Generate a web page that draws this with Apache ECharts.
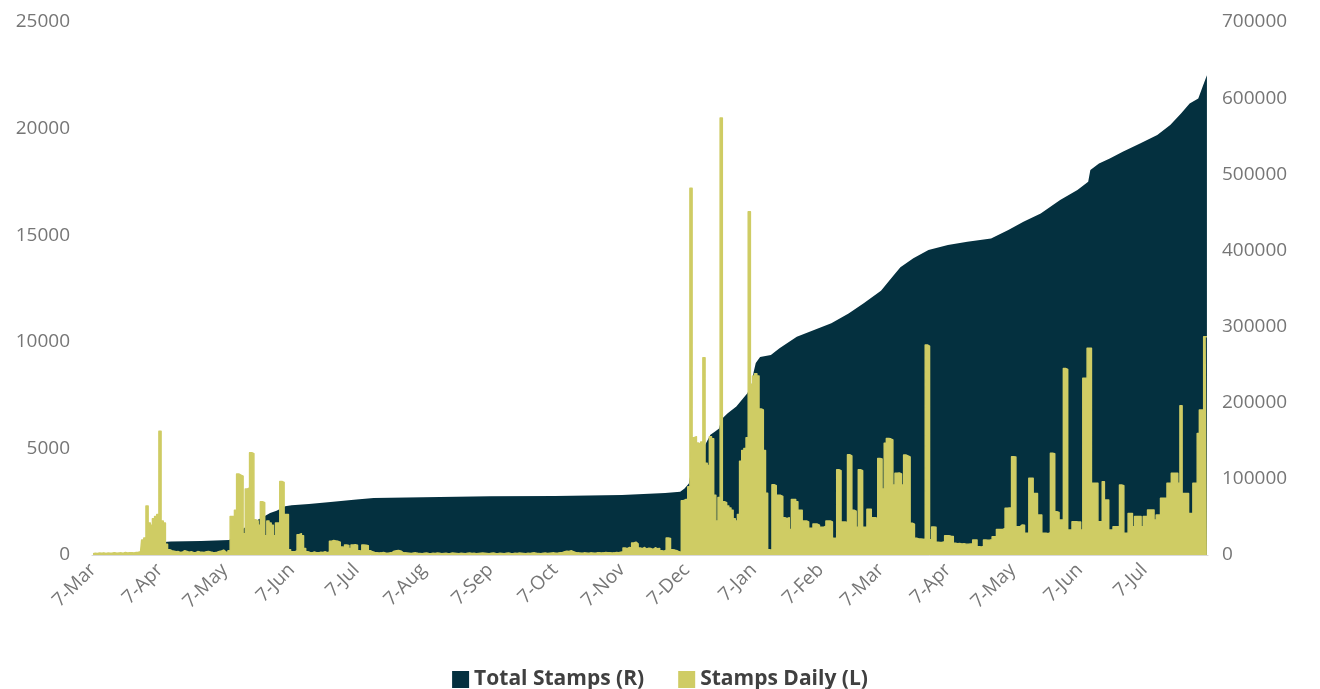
<!DOCTYPE html>
<html>
<head>
<meta charset="utf-8">
<title>Stamps</title>
<script src="https://cdn.jsdelivr.net/npm/echarts@6/dist/echarts.min.js"></script>
<style>
  html, body { margin: 0; padding: 0; background: #fff; }
  #chart { width: 1320px; height: 689px; }
</style>
</head>
<body>
<div id="chart"></div>
<script>
// first day of the series, one category per day
const startYear = 2022, startMonth = 2, startDay = 7;
const monthNames = ['Jan', 'Feb', 'Mar', 'Apr', 'May', 'Jun', 'Jul', 'Aug', 'Sep', 'Oct', 'Nov', 'Dec'];

// Stamps Daily (L), one value per day from 7-Mar
const dailyStamps = [
  60, 80, 70, 90, 80, 100, 70, 90, 80, 90, 110, 80, 90, 100, 80, 120, 90, 100, 110, 90, 120, 130, 150,
  700, 800, 2300, 1500, 1400, 1700, 1800, 1900, 5800, 1600, 1500, 500, 250, 200,
  180, 150, 160, 120, 140, 200, 170, 130, 150, 120, 110, 160, 140, 130, 120, 150, 170, 140, 120, 110, 130, 160, 190, 230,
  150, 100, 200,
  1800, 1800, 2100, 3800, 3750, 3700, 1000, 3100, 3150, 4800, 4750, 1650, 1600, 1400, 2500, 2450, 900, 1600, 1500, 1400,
  900, 1500, 1500, 3450, 3400, 1900, 1900, 250, 150, 150, 200, 950, 1000, 900, 300, 150,
  120, 100, 140, 110, 100, 130, 120, 150, 110, 140,
  650, 680, 660, 640, 600, 380, 350, 470, 450, 300, 470, 480, 460, 200, 180, 470, 460, 440, 200, 150, 120,
  110, 90, 100, 120, 90, 80, 100, 110, 180, 200,
  210, 190, 120, 100, 90, 80, 70, 90, 100, 80,
  70, 60, 80, 90, 70, 60, 80, 70, 90, 80,
  60, 70, 80, 60, 70, 90, 80, 70, 60, 80,
  70, 60, 80, 90, 70, 80, 60, 70, 80, 90,
  80, 70, 60, 80, 90, 70, 60, 80, 70, 60,
  80, 90, 70, 60, 80, 70, 90, 80, 70, 60,
  80, 70, 90, 100, 80, 70, 60, 80, 90, 70,
  80, 90, 100, 80, 90, 110, 120, 150, 180, 170,
  200, 160, 120, 100, 90, 80, 100, 90, 80, 100,
  90, 80, 100, 110, 90, 100, 120, 110, 100, 90,
  100, 120, 110, 130, 150,
  330, 300, 350, 320, 560, 600, 520, 330, 300, 350, 280, 320, 300, 260, 340, 290, 310, 200, 180, 220,
  800, 780, 250, 230, 200, 150, 120,
  2550, 2600, 2600, 3200, 17200, 5500, 5550, 5250, 5200, 5300, 9250, 4300, 4200, 5550, 5450, 2800, 1600, 2700,
  20500, 2500, 2450, 2300, 2200, 2100, 1700, 1600, 1900, 4400, 4900, 5000, 5500, 16100, 8000, 8400, 8500, 8400,
  6850, 6800, 4900, 2900, 250, 200,
  3300, 3250, 2800, 2800, 2750, 1750, 1700, 1750, 1200, 2600, 2600, 2500, 2100, 2100, 1600, 1600, 1550, 1250, 1250,
  1450, 1450, 1400, 1300, 1300, 1350, 1600, 1600, 1550, 780, 800, 4000, 3950, 1550, 1550, 1500, 4700, 4650, 2100,
  2050, 1300, 4000, 3950, 1300, 1300, 2150, 2150, 1750, 1750, 1700, 4530,
  4500, 3100, 5240, 5470, 5450, 5400, 3280, 3830, 3850, 3800, 3280, 4690, 4650, 4600, 1490, 1450, 790, 750, 750, 740,
  720, 9850, 9800, 720, 1310, 1300, 600, 590, 600, 620, 900, 900, 880, 870, 550, 530, 540, 520, 530, 510,
  500, 520, 530, 700, 700, 390, 380, 400, 700, 690, 700, 720, 860, 860, 1200, 1200, 1200, 1250, 2190, 2200,
  2200, 4610,
  4600, 1330, 1330, 1410, 1400, 1020, 1020, 3600, 3600, 2890, 2880, 1880, 1880, 1020, 1020, 1000, 1050, 4770, 4750,
  2030, 2000, 1640, 1640, 8750, 8700, 1170, 1170, 1560, 1560, 1550, 1550, 1170, 8290, 8300, 9700, 9700,
  3360, 3360, 3360, 1560, 1560, 3440, 2580, 2580, 1170, 1170, 1330, 1330, 1330, 3280, 3250, 1020, 1020, 1950, 1950,
  1330, 1800, 1800, 1800, 1330, 1800, 1800, 2110, 2110, 2110, 1640, 1880, 1880, 2660, 2660, 2660, 3360, 3360, 3830,
  3830, 3830, 3360, 7000, 2890, 2890, 2890, 1950, 1950, 3360, 3360, 5700, 6800, 6800, 10240, 10240
];

// Total Stamps (R), read at these day offsets from 7-Mar
const totalDays = [
  0, 10, 22, 23, 25, 28, 30, 31, 33, 36, 50, 63, 64, 66, 68, 70, 72, 74, 76, 78,
  80, 82, 85, 87, 89, 92, 100, 110, 122, 130, 153, 184, 214, 245, 255, 265, 272, 274, 276, 277,
  279, 282, 283, 286, 288, 290, 291, 294, 298, 303, 305, 306, 307, 309, 314, 318, 326, 334, 342, 350,
  357, 365, 371, 374, 380, 387, 396, 405, 416, 424, 431, 439, 448, 456, 461, 462, 466, 471, 477, 485,
  493, 499, 504, 508, 512, 514, 516
];
const totalStamps = [
  60, 700, 1500, 2000, 4500, 8200, 11000, 15500, 17200, 17600, 18500, 19700, 21500, 25400, 32000, 35500, 39000, 43000, 45500, 49000,
  52000, 55000, 58000, 61000, 64000, 65500, 67000, 69500, 73000, 74800, 76000, 77000, 77500, 78800, 80000, 81500, 83100, 87500, 94000, 110000,
  120000, 135000, 142000, 158000, 162000, 166000, 178000, 186000, 195000, 212000, 222000, 240000, 252000, 260000, 262600, 271400, 286700, 295400, 304200, 317300,
  330500, 347000, 367600, 378000, 389600, 400500, 407000, 411400, 415800, 426700, 437600, 448600, 466100, 479200, 490200, 505500, 514300, 520800, 529600, 540500,
  551500, 564600, 579900, 593100, 599600, 614900, 630200
];

const leftMax = 25000, leftStep = 5000;
const rightMax = 700000, rightStep = 100000;

const seriesNames = ['Total Stamps (R)', 'Stamps Daily (L)'];
const darkColor = '#04303f';
const yellowColor = '#cfcc64';
const font = '"Open Sans", "Noto Sans", sans-serif';
const labelColor = '#767676';

const days = [];
const t0 = Date.UTC(startYear, startMonth, startDay);
for (let i = 0; i < dailyStamps.length; i++) {
  days.push(new Date(t0 + i * 86400000).toISOString().slice(0, 10));
}
const isSeventh = (i, v) => v.slice(8) === '07';
const totalData = totalDays.map((d, i) => [d, totalStamps[i]]);

const myChart = echarts.init(document.getElementById('chart'));
myChart.setOption({
  animation: false,
  grid: { left: 92, right: 112, top: 22, bottom: 134 },
  legend: {
    top: 664,
    left: 'center',
    icon: 'rect',
    itemWidth: 17,
    itemHeight: 17,
    itemGap: 34,
    data: seriesNames,
    textStyle: { fontFamily: font, fontSize: 21, fontWeight: 'bold', color: '#404040' }
  },
  xAxis: {
    type: 'category',
    data: days,
    axisLine: { lineStyle: { color: '#d9d9d9' } },
    axisTick: { alignWithLabel: true, interval: isSeventh, length: 6, lineStyle: { color: '#d9d9d9' } },
    axisLabel: {
      interval: isSeventh,
      rotate: 45,
      margin: 12,
      color: labelColor,
      fontFamily: font,
      fontSize: 19,
      formatter: v => (+v.slice(8)) + '-' + monthNames[+v.slice(5, 7) - 1]
    },
    splitLine: { show: false }
  },
  yAxis: [
    {
      type: 'value',
      position: 'left',
      min: 0,
      max: leftMax,
      interval: leftStep,
      axisLine: { show: false },
      axisTick: { show: false },
      splitLine: { show: false },
      axisLabel: { margin: 22, color: labelColor, fontFamily: font, fontSize: 19, formatter: v => String(v) }
    },
    {
      type: 'value',
      position: 'right',
      min: 0,
      max: rightMax,
      interval: rightStep,
      axisLine: { show: false },
      axisTick: { show: false },
      splitLine: { show: false },
      axisLabel: { margin: 14, color: labelColor, fontFamily: font, fontSize: 19, formatter: v => String(v) }
    }
  ],
  series: [
    {
      name: seriesNames[0],
      type: 'line',
      yAxisIndex: 1,
      data: totalData,
      symbol: 'none',
      lineStyle: { width: 0 },
      itemStyle: { color: darkColor },
      areaStyle: { color: darkColor, opacity: 1 },
      z: 1
    },
    {
      // daily columns drawn edge to edge as a stepped area
      name: seriesNames[1],
      type: 'line',
      step: 'middle',
      yAxisIndex: 0,
      data: dailyStamps,
      symbol: 'none',
      lineStyle: { color: yellowColor, width: 1.5, join: 'round' },
      itemStyle: { color: yellowColor },
      areaStyle: { color: yellowColor, opacity: 1 },
      z: 2
    }
  ]
});
</script>
</body>
</html>
